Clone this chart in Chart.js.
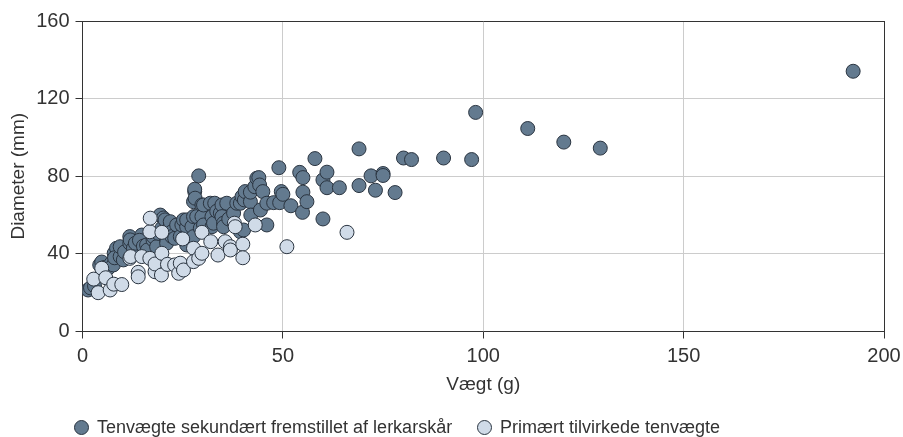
<!DOCTYPE html>
<html lang="da">
<head>
<meta charset="utf-8">
<title>Tenvægte</title>
<script src="https://cdn.jsdelivr.net/npm/chart.js@4.4.1/dist/chart.umd.min.js"></script>
<style>
    html, body { margin: 0; padding: 0; background: #fff; }
    #wrap { position: relative; width: 903px; height: 437px; overflow: hidden; }
    .legend { position: absolute; top: 417px; left: 0; font-family: 'Liberation Sans', Arial, sans-serif; font-size: 18px; color: #333; white-space: nowrap; }
    .legend-item { position: absolute; top: 0; display: flex; align-items: center; }
    .legend-dot { width: 13px; height: 13px; border-radius: 50%; border: 1px solid #2a3440; margin-right: 8px; }
</style>
</head>
<body>
<div id="wrap">
    <canvas id="chart" width="903" height="437"></canvas>
    <div class="legend">
        <div class="legend-item" style="left:74px"><span class="legend-dot" style="background:#637a8f"></span><span>Tenvægte sekundært fremstillet af lerkarskår</span></div>
        <div class="legend-item" style="left:477px"><span class="legend-dot" style="background:#d0dbe8"></span><span>Primært tilvirkede tenvægte</span></div>
    </div>
</div>
<script>
// Tenvægte sekundært fremstillet af lerkarskår: vægt (g) / diameter (mm)
const secWeight = [
    1.4, 2.0, 3.0, 4.3, 4.8, 5.5, 6.4, 7.2, 7.7, 7.9, 8.5, 8.0, 9.4, 9.4, 10.2, 10.5,
    11.8, 11.8, 11.9, 12.7, 13.9, 13.2, 14.8, 14.2, 15.2, 16.0, 16.2, 17.6, 17.7, 18.5,
    18.9, 19.4, 19.8, 20.2, 20.6, 21.0, 21.0, 21.9, 21.9, 22.3, 22.3, 23.0, 23.5, 24.4,
    24.8, 25.2, 26.0, 26.0, 26.0, 27.3, 27.7, 27.7, 27.7, 28.0, 28.0, 28.1, 28.5, 29.0,
    29.4, 29.8, 29.8, 30.2, 30.2, 31.9, 32.3, 32.3, 33.0, 32.7, 33.5, 34.4, 34.8, 34.8,
    35.2, 35.2, 36.0, 36.5, 37.7, 38.5, 39.4, 39.4, 39.8, 40.2, 40.4, 40.6, 41.9, 41.9,
    42.0, 43.0, 43.5, 44.0, 44.2, 44.4, 45.0, 46.0, 46.0, 47.7, 49.0, 49.2, 49.6, 50.0,
    52.0, 54.2, 54.9, 55.0, 55.0, 56.0, 58.0, 60.0, 60.0, 61.0, 61.0, 64.1, 69.0, 69.0,
    72.0, 73.1, 75.0, 75.0, 78.0, 80.1, 82.1, 90.1, 97.1, 98.1, 111.1, 120.1, 129.2, 192.3
];
const secDiameter = [
    21.4, 22.5, 23.5, 34.3, 35.8, 33.0, 32.6, 35.2, 34.3, 40.3, 42.9, 38.0, 38.6, 43.7, 36.9, 41.0,
    45.5, 48.9, 47.2, 42.9, 42.9, 45.5, 49.7, 47.0, 44.0, 44.6, 42.0, 47.2, 48.9, 43.7,
    50.6, 60.0, 53.2, 58.5, 57.5, 47.2, 45.5, 54.0, 56.6, 51.4, 48.9, 48.0, 54.9, 48.9,
    54.9, 57.5, 54.0, 57.5, 44.6, 54.0, 48.9, 59.2, 66.9, 72.1, 73.3, 68.7, 59.2, 80.2,
    53.2, 65.2, 59.2, 54.9, 65.2, 66.1, 54.0, 59.2, 66.1, 55.8, 62.0, 61.0, 65.2, 59.2,
    55.8, 54.0, 66.1, 58.0, 61.0, 66.1, 66.1, 51.4, 69.5, 52.3, 67.8, 72.1, 66.9, 71.8,
    60.0, 74.6, 79.0, 79.3, 75.5, 62.6, 72.1, 66.1, 54.9, 66.4, 84.4, 66.4, 72.1, 70.7,
    64.8, 82.0, 61.4, 79.3, 71.8, 66.9, 89.1, 78.1, 58.0, 82.1, 74.1, 74.1, 94.1, 75.2,
    80.2, 72.8, 81.4, 80.4, 71.6, 89.4, 88.6, 89.4, 88.6, 112.9, 104.6, 97.6, 94.5, 134.1
];

// Primært tilvirkede tenvægte
const primWeight = [
    2.8, 3.9, 4.8, 5.8, 6.9, 7.8, 9.8, 11.8, 12.0, 13.9, 13.9, 14.8, 16.8, 16.8, 16.9,
    18.1, 18.1, 19.7, 19.8, 19.8, 21.2, 23.0, 24.0, 24.4, 25.0, 25.2, 27.7, 27.7, 29.0,
    29.8, 29.8, 32.0, 33.8, 35.6, 36.9, 36.9, 37.9, 38.1, 40.0, 40.0, 43.1, 51.0, 66.0
];
const primDiameter = [
    27.0, 20.0, 32.6, 27.7, 21.4, 24.4, 24.2, 37.7, 38.6, 30.5, 28.2, 38.6, 37.7, 51.4, 58.4,
    30.8, 34.8, 29.1, 51.1, 40.3, 34.6, 34.3, 30.0, 35.2, 47.7, 31.7, 42.9, 36.0, 37.7,
    51.1, 40.3, 46.3, 39.4, 46.3, 43.7, 42.0, 55.8, 54.0, 45.0, 38.0, 54.9, 43.7, 51.1
];

// Axis ticks
const xTicks = [0, 50, 100, 150, 200];
const yTicks = [0, 40, 80, 120, 160];

const toPoints = (xs, ys) => xs.map((x, i) => ({ x: x, y: ys[i] }));

const fontFamily = "'Liberation Sans', Arial, sans-serif";
const textColor = '#333';
const axisColor = '#333';
const gridColor = '#cccccc';

const ctx = document.getElementById('chart').getContext('2d');
const chart = new Chart(ctx, {
    type: 'scatter',
    data: {
        datasets: [{
            label: 'Tenvægte sekundært fremstillet af lerkarskår',
            data: toPoints(secWeight, secDiameter),
            backgroundColor: '#637a8f',
            borderColor: '#2a3440',
            borderWidth: 1,
            pointRadius: 7,
            pointHoverRadius: 7,
            order: 1
        }, {
            label: 'Primært tilvirkede tenvægte',
            data: toPoints(primWeight, primDiameter),
            backgroundColor: '#d0dbe8',
            borderColor: '#2a3440',
            borderWidth: 1,
            pointRadius: 7,
            pointHoverRadius: 7,
            order: 0
        }]
    },
    options: {
        responsive: false,
        animation: false,
        layout: {
            padding: { left: 0, right: 19, top: 21, bottom: 37 }
        },
        plugins: {
            legend: { display: false },
            tooltip: { enabled: false }
        },
        scales: {
            x: {
                type: 'linear',
                min: xTicks[0],
                max: xTicks[xTicks.length - 1],
                afterBuildTicks: scale => { scale.ticks = xTicks.map(v => ({ value: v })); },
                afterFit: scale => {
                    scale.height = 68.5;
                    // let the layout padding decide the plot edges, not the label overhang
                    scale.paddingLeft = 0;
                    scale.paddingRight = 0;
                },
                ticks: { color: textColor, font: { family: fontFamily, size: 20 }, padding: 6, maxRotation: 0 },
                grid: {
                    color: c => (c.tick && c.tick.value === 200) ? axisColor : gridColor,
                    tickColor: axisColor,
                    tickLength: 7,
                    lineWidth: 1
                },
                border: { color: axisColor, width: 1 },
                title: {
                    display: true,
                    text: 'Vægt (g)',
                    color: textColor,
                    font: { family: fontFamily, size: 19 },
                    padding: { top: 4, bottom: 4 }
                }
            },
            y: {
                type: 'linear',
                min: yTicks[0],
                max: yTicks[yTicks.length - 1],
                afterBuildTicks: scale => { scale.ticks = yTicks.map(v => ({ value: v })); },
                afterFit: scale => { scale.width = 82.5; },
                ticks: { color: textColor, font: { family: fontFamily, size: 20 }, padding: 6 },
                grid: {
                    color: c => (c.tick && c.tick.value === 160) ? axisColor : gridColor,
                    tickColor: axisColor,
                    tickLength: 7,
                    lineWidth: 1
                },
                border: { color: axisColor, width: 1 },
                title: {
                    display: true,
                    text: 'Diameter (mm)',
                    color: textColor,
                    font: { family: fontFamily, size: 19 },
                    padding: { top: 7, bottom: 0 }
                }
            }
        }
    }
});
</script>
</body>
</html>
